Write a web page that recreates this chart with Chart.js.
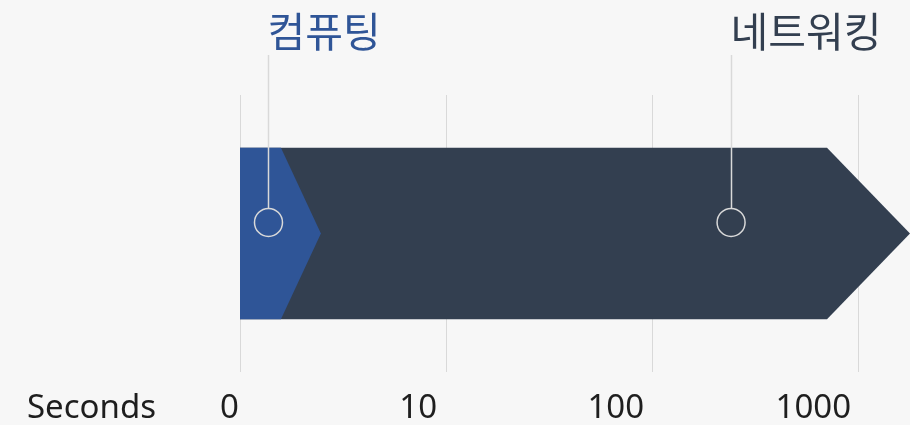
<!DOCTYPE html>
<html>
<head>
<meta charset="utf-8">
<script src="https://cdn.jsdelivr.net/npm/chart.js@4.4.1/dist/chart.umd.min.js"></script>
<style>
  html, body { margin: 0; padding: 0; background: #f7f7f7; }
  #wrap { width: 910px; height: 425px; }
</style>
</head>
<body>
<div id="wrap"><canvas id="chart" width="910" height="425"></canvas></div>
<script>
// time axis (log seconds); the "0" tick sits at 1 s
var tickValues = [1, 10, 100, 1000];
var tickLabels = ['0', '10', '100', '1000'];
var axisTitle = 'Seconds';
var axisMax = 1788;

// phases
var phases = ['컴퓨팅', '네트워킹'];
var phaseStart = [1, 1];
var phaseFlatEnd = [1.58, 707];
var phaseTip = [2.47, 1788];
var markerX = [1.375, 242];

// vertical extents (0..100 band)
var bandTop = 81;
var bandBottom = 19;
var bandMid = 50;
var markerY = 54;

var phaseColors = ['#2f5597', '#333f50'];
var textFont = '"Noto Sans", "Open Sans", sans-serif';
var cjkFont = '"Noto Sans CJK KR", "Noto Sans", sans-serif';

function arrowShape(i) {
    return [
        {x: phaseStart[i], y: bandTop},
        {x: phaseFlatEnd[i], y: bandTop},
        {x: phaseTip[i], y: bandMid},
        {x: phaseFlatEnd[i], y: bandBottom},
        {x: phaseStart[i], y: bandBottom},
        {x: phaseStart[i], y: bandTop}
    ];
}

var datasets = [];
datasets.push({
    label: 'markers',
    data: markerX.map(function(x) { return {x: x, y: markerY}; }),
    showLine: false,
    pointStyle: 'circle',
    pointRadius: 14,
    pointHoverRadius: 14,
    pointBackgroundColor: 'rgba(0,0,0,0)',
    pointBorderColor: '#d9d9d9',
    pointBorderWidth: 1.5,
    order: 0
});
// dark one behind, blue in front
for (var i = phases.length - 1; i >= 0; i--) {
    datasets.push({
        label: phases[i],
        data: arrowShape(i),
        showLine: true,
        fill: 'shape',
        backgroundColor: phaseColors[i],
        borderColor: phaseColors[i],
        borderWidth: 0,
        tension: 0,
        pointRadius: 0,
        pointHoverRadius: 0,
        order: i + 1
    });
}

var calloutPlugin = {
    id: 'callouts',
    afterDatasetsDraw: function(chart) {
        var ctx = chart.ctx;
        var meta = chart.getDatasetMeta(0);
        ctx.save();
        for (var i = 0; i < meta.data.length; i++) {
            var pt = meta.data[i];
            var px = Math.round(pt.x) + 0.5;
            ctx.strokeStyle = '#d9d9d9';
            ctx.lineWidth = 1.5;
            ctx.beginPath();
            ctx.moveTo(px, pt.y - 14);
            ctx.lineTo(px, 55);
            ctx.stroke();

            ctx.fillStyle = phaseColors[i];
            ctx.font = '41px ' + cjkFont;
            ctx.textAlign = 'left';
            ctx.textBaseline = 'middle';
            ctx.fillText(phases[i], px - 1, 31);
        }
        ctx.restore();
    }
};

var axisLabelPlugin = {
    id: 'axisLabels',
    afterDraw: function(chart) {
        var ctx = chart.ctx;
        var xScale = chart.scales.x;
        var nudge = [-1, -9, -8, -7];
        ctx.save();
        ctx.fillStyle = '#1e1e1e';
        ctx.font = '33px ' + textFont;
        ctx.textBaseline = 'alphabetic';
        ctx.textAlign = 'left';
        ctx.fillText(axisTitle, 27, 418);
        ctx.textAlign = 'right';
        for (var i = 0; i < tickValues.length; i++) {
            ctx.fillText(tickLabels[i], xScale.getPixelForValue(tickValues[i]) + nudge[i], 418);
        }
        ctx.restore();
    }
};

new Chart(document.getElementById('chart'), {
    type: 'scatter',
    data: { datasets: datasets },
    options: {
        responsive: false,
        animation: false,
        events: [],
        layout: { autoPadding: false, padding: { left: 240, right: 0, top: 95, bottom: 53 } },
        plugins: {
            legend: { display: false },
            tooltip: { enabled: false }
        },
        scales: {
            x: {
                type: 'logarithmic',
                min: 1,
                max: axisMax,
                afterBuildTicks: function(scale) {
                    scale.ticks = tickValues.map(function(v) { return {value: v}; });
                },
                ticks: { display: false },
                grid: { color: '#d9d9d9', lineWidth: 1, drawTicks: false },
                border: { display: false }
            },
            y: {
                display: false,
                min: 0,
                max: 100
            }
        }
    },
    plugins: [calloutPlugin, axisLabelPlugin]
});
</script>
</body>
</html>
